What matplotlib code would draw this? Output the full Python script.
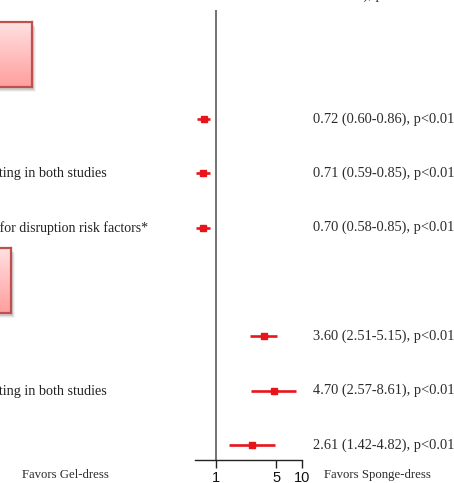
import numpy as np
import matplotlib
matplotlib.use("Agg")
import matplotlib.pyplot as plt
from matplotlib.patches import Rectangle
from matplotlib.transforms import blended_transform_factory

# ---- data -------------------------------------------------------------
rows = [0, 1, 2, 4, 5, 6]
estimates = [0.72, 0.71, 0.70, 3.60, 4.70, 2.61]
ci_low = [0.60, 0.59, 0.58, 2.51, 2.57, 1.42]
ci_high = [0.86, 0.85, 0.85, 5.15, 8.61, 4.82]
p_text = ["p<0.01"] * 6
row_labels = ["", "Adjusted for risk factors existing in both studies",
              "Adjusted for disruption risk factors*", "",
              "Adjusted for risk factors existing in both studies", ""]
tick_values = [1, 5, 10]
tick_labels = ["1", "5", "10"]
header = "Odds Ratio (95%\nCI), p-value"
left_note = "Favors Gel-dress"
right_note = "Favors Sponge-dress"

W, H, DPI = 454, 483, 100
fig = plt.figure(figsize=(W / DPI, H / DPI), dpi=DPI)
fig.patch.set_facecolor("white")

def fx(px):
    return px / W

def fy(py):
    return 1 - py / H

serif = ["Liberation Serif", "DejaVu Serif"]
sans = ["Liberation Sans", "DejaVu Sans"]
red = "#E8141C"
txt = "#2b2b2b"

# ---- forest axes ------------------------------------------------------
ax_l, ax_r, ax_t, ax_b = 195, 302, 10, 460
ax = fig.add_axes([fx(ax_l), fy(ax_b), fx(ax_r - ax_l), (ax_b - ax_t) / H])
ax.set_xscale("log")
ax.set_xlim(10 ** (-(216 - ax_l) / 86.0), 10)
ax.set_ylim(6.276, -2.006)
ax.patch.set_alpha(0)
for s in ["top", "right", "left"]:
    ax.spines[s].set_visible(False)
ax.spines["bottom"].set_color("#222222")
ax.spines["bottom"].set_linewidth(1.0)
ax.set_yticks([])
ax.xaxis.set_minor_locator(matplotlib.ticker.NullLocator())
ax.set_xticks(tick_values)
ax.set_xticklabels(tick_labels, fontfamily=sans, fontsize=10.5, color="#111111")
ax.tick_params(axis="x", direction="out", length=6, width=1.0,
               color="#222222", pad=2)

ax.axvline(1, color="#666666", lw=1.3, zorder=1)

err = [np.array(estimates) - np.array(ci_low),
       np.array(ci_high) - np.array(estimates)]
ax.errorbar(estimates, rows, xerr=err, fmt="s", color=red, ecolor=red,
            elinewidth=1.9, markersize=4.8, capsize=0, zorder=3)

# ---- right-hand estimates text ---------------------------------------
tr = blended_transform_factory(fig.transFigure, ax.transData)
for r, e, lo, hi, p in zip(rows, estimates, ci_low, ci_high, p_text):
    ax.text(fx(313), r, f"{e:.2f} ({lo:.2f}-{hi:.2f}), {p}", transform=tr,
            ha="left", va="center", fontfamily=serif, fontsize=10.4, color=txt)

# row labels on the left
for r, lab in zip(rows, row_labels):
    if lab:
        both = "both" in lab
        ax.text(fx(107 if both else 148), r, lab, transform=tr,
                ha="right", va="center", fontfamily=serif,
                fontsize=10.2 if both else 10.0, color="#222222")

# header and direction notes
fig.text(fx(384), fy(-1), header, ha="center", va="baseline",
         multialignment="center", fontfamily=serif, fontsize=10.4, color=txt)
fig.text(fx(65), fy(475), left_note, ha="center", va="center",
         fontfamily=serif, fontsize=9.2, color=txt)
fig.text(fx(377), fy(475), right_note, ha="center", va="center",
         fontfamily=serif, fontsize=9.2, color=txt)

# ---- pink section boxes ----------------------------------------------
def pink_box(x0, y0, x1, y1):
    # soft shadow behind the box
    for k, a in enumerate([0.10, 0.07, 0.04]):
        fig.patches.append(Rectangle((fx(x0 + 2 + k), fy(y1 + 3 + k)),
                                     fx(x1 - x0), (y1 - y0) / H,
                                     transform=fig.transFigure,
                                     facecolor="black", alpha=a,
                                     edgecolor="none", zorder=-5))
    bax = fig.add_axes([fx(x0), fy(y1), fx(x1 - x0), (y1 - y0) / H])
    bax.set_zorder(2)
    grad = np.linspace(0, 1, 64)[:, None, None]
    top = np.array([1.0, 0.88, 0.88])
    bot = np.array([1.0, 0.62, 0.62])
    img = top + (bot - top) * grad
    bax.imshow(np.repeat(img, 2, axis=1), aspect="auto",
               extent=[0, 1, 0, 1], origin="upper")
    bax.set_xticks([])
    bax.set_yticks([])
    for s in bax.spines.values():
        s.set_color("#C0504D")
        s.set_linewidth(1.6)

pink_box(-20, 22, 32, 87)
pink_box(-20, 248, 11, 313)

fig.savefig("out.png", dpi=DPI, facecolor="white")
